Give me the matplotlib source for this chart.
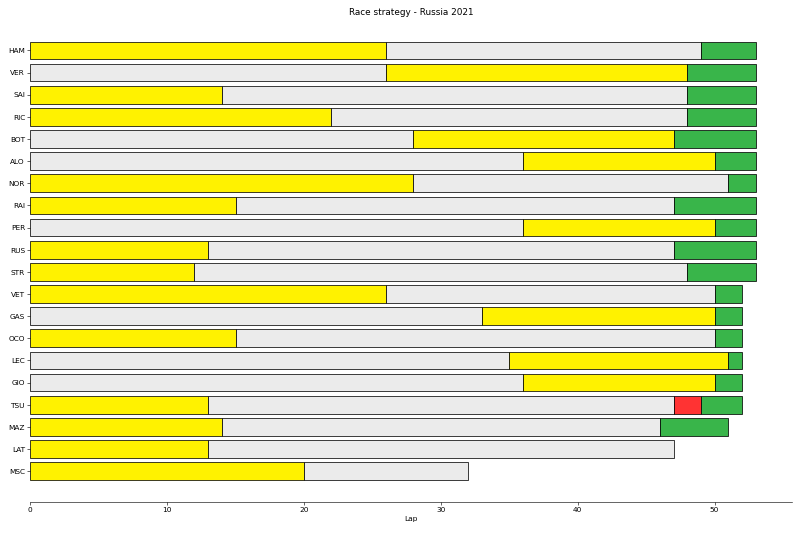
import matplotlib
matplotlib.use("Agg")
import matplotlib.pyplot as plt

# stints per driver: (compound, stint length in laps)
drivers = ["HAM", "VER", "SAI", "RIC", "BOT", "ALO", "NOR", "RAI", "PER", "RUS",
           "STR", "VET", "GAS", "OCO", "LEC", "GIO", "TSU", "MAZ", "LAT", "MSC"]

stints = {
    "HAM": [("MEDIUM", 26), ("HARD", 23), ("INTERMEDIATE", 4)],
    "VER": [("HARD", 26), ("MEDIUM", 22), ("INTERMEDIATE", 5)],
    "SAI": [("MEDIUM", 14), ("HARD", 34), ("INTERMEDIATE", 5)],
    "RIC": [("MEDIUM", 22), ("HARD", 26), ("INTERMEDIATE", 5)],
    "BOT": [("HARD", 28), ("MEDIUM", 19), ("INTERMEDIATE", 6)],
    "ALO": [("HARD", 36), ("MEDIUM", 14), ("INTERMEDIATE", 3)],
    "NOR": [("MEDIUM", 28), ("HARD", 23), ("INTERMEDIATE", 2)],
    "RAI": [("MEDIUM", 15), ("HARD", 32), ("INTERMEDIATE", 6)],
    "PER": [("HARD", 36), ("MEDIUM", 14), ("INTERMEDIATE", 3)],
    "RUS": [("MEDIUM", 13), ("HARD", 34), ("INTERMEDIATE", 6)],
    "STR": [("MEDIUM", 12), ("HARD", 36), ("INTERMEDIATE", 5)],
    "VET": [("MEDIUM", 26), ("HARD", 24), ("INTERMEDIATE", 2)],
    "GAS": [("HARD", 33), ("MEDIUM", 17), ("INTERMEDIATE", 2)],
    "OCO": [("MEDIUM", 15), ("HARD", 35), ("INTERMEDIATE", 2)],
    "LEC": [("HARD", 35), ("MEDIUM", 16), ("INTERMEDIATE", 1)],
    "GIO": [("HARD", 36), ("MEDIUM", 14), ("INTERMEDIATE", 2)],
    "TSU": [("MEDIUM", 13), ("HARD", 34), ("SOFT", 2), ("INTERMEDIATE", 3)],
    "MAZ": [("MEDIUM", 14), ("HARD", 32), ("INTERMEDIATE", 5)],
    "LAT": [("MEDIUM", 13), ("HARD", 34)],
    "MSC": [("MEDIUM", 20), ("HARD", 12)],
}

compound_colors = {
    "SOFT": "#FF3333",
    "MEDIUM": "#FFF200",
    "HARD": "#EBEBEB",
    "INTERMEDIATE": "#39B54A",
    "WET": "#00AEEF",
}

fig, ax = plt.subplots(figsize=(15, 10))

for driver in drivers:
    previous_stint_end = 0
    for compound, length in stints[driver]:
        plt.barh(y=driver, width=length, left=previous_stint_end,
                 color=compound_colors[compound], edgecolor="black", fill=True)
        previous_stint_end += length

plt.title("Race strategy - Russia 2021")
plt.xlabel("Lap")
plt.grid(False)
ax.invert_yaxis()

ax.spines["top"].set_visible(False)
ax.spines["right"].set_visible(False)
ax.spines["left"].set_visible(False)

plt.tight_layout()
plt.savefig("out.png", dpi=800 / 15)
